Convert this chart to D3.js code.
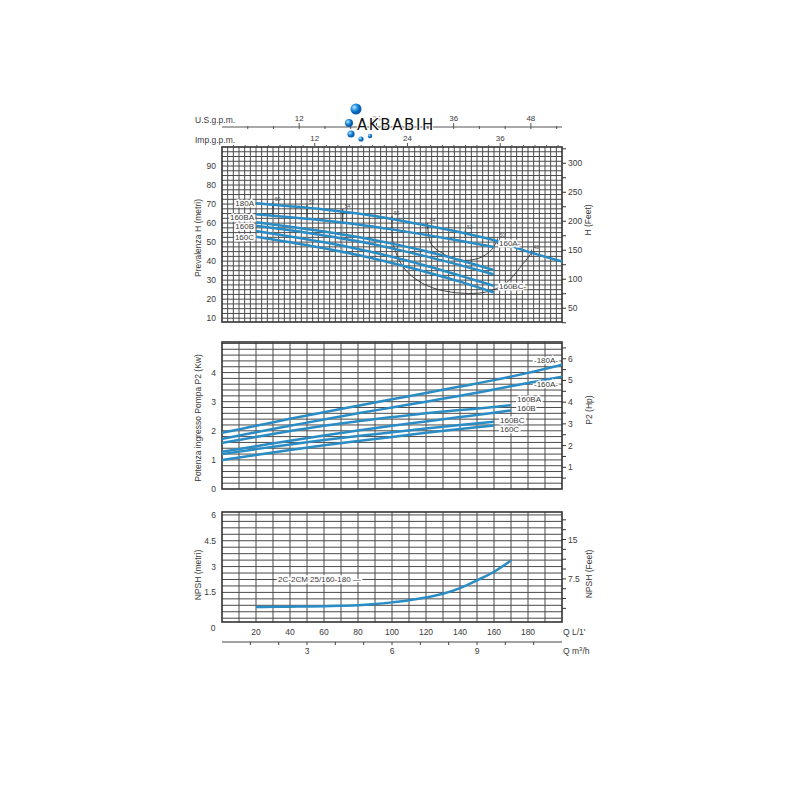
<!DOCTYPE html>
<html><head><meta charset="utf-8">
<script src="https://cdn.jsdelivr.net/npm/d3@7"></script>
<style>body{margin:0;background:#fff}svg{display:block}</style>
</head><body>
<script>
// ---------- DATA ----------
const modelNames = ["180A","160A","160BA","160B","160BC","160C"];
// Head curves H (m) vs Q (L/min)
const qHead = [20,40,60,80,100,120,140,160,180,200];
const head180A = [70.4,68.9,67.2,65.0,62.2,58.8,55.2,51.0,45.0,39.8];
const head160A = [64.6,63.1,61.4,59.3,56.7,53.8,50.7,47.4];
const head160BA = [60.4,58.1,55.6,52.7,49.2,45.2,40.5,35.3];
const head160B = [58.6,56.2,53.5,50.4,46.7,42.5,37.9,33.0];
const head160BC = [55.8,53.0,49.9,46.4,42.3,37.6,32.4,27.0];
const head160C = [52.8,49.9,46.8,43.2,39.0,34.3,29.2,23.5];
// Power P2 (kW) vs Q (L/min)
const qPower = [0,20,40,60,80,100,120,140,160,180,200];
const qPowerB = [0,20,40,60,80,100,120,140,160,170];
const power180A = [1.93,2.17,2.41,2.64,2.86,3.08,3.30,3.52,3.74,3.99,4.27];
const power160A = [1.72,1.95,2.17,2.39,2.60,2.80,3.00,3.20,3.42,3.64,3.86];
const power160BA = [1.58,1.79,1.99,2.17,2.33,2.47,2.60,2.71,2.82,2.88];
const power160B = [1.28,1.47,1.66,1.84,2.01,2.17,2.32,2.47,2.62,2.70];
const power160BC = [1.20,1.37,1.53,1.68,1.82,1.95,2.08,2.20,2.31];
const power160C = [1.00,1.17,1.34,1.50,1.65,1.79,1.93,2.06,2.18];
// NPSH (m) vs Q (L/min)
const qNpsh = [20,30,40,50,60,70,80,90,100,110,120,130,140,150,160,170];
const npshValues = [0.65,0.66,0.67,0.68,0.70,0.72,0.75,0.82,0.92,1.04,1.20,1.42,1.75,2.20,2.70,3.35];
const npshLabel = "2C-2CM 25/160-180";
// iso-efficiency curves (Q, H)
const isoInner = [[121,59],[123,49],[131,43.5],[140,40.5],[151,41.5],[158,45.5],[162,51]];
const isoOuter = [[100,63.2],[101,48],[108,35.3],[120,27.4],[135,23.7],[155,23.7],[167,28.4],[175,36.3],[182,44.2]];
const isoMarksQ = [30,50,71];
const effPointQ = [30,50,71,100,121,143,162,182];
const effPointLabels = [50,52,54,55,54,52,50,48];
// Tick labels
const qTicks = [20,40,60,80,100,120,140,160,180];
const usGpmLabels = [12,24,36,48];
const impGpmLabels = [12,24,36];
const m3hLabels = [3,6,9];
const headTicks = [10,20,30,40,50,60,70,80,90];
const headFtTicks = [50,100,150,200,250,300];
const powerTicks = [0,1,2,3,4];
const hpTicks = [1,2,3,4,5,6];
const npshTicks = [1.5,3,4.5,6];
const npshFtTicks = [7.5,15];

// ---------- LAYOUT ----------
const W=800,H=800;
const svg=d3.select("body").append("svg").attr("width",W).attr("height",H).style("font-family","'Liberation Sans',Arial,sans-serif");
const X0=222,X1=562;
const x=d3.scaleLinear([0,200],[X0,X1]);
const yH=d3.scaleLinear([8,100],[322,147]);
const yHft=d3.scaleLinear([8*3.2808,100*3.2808],[322,147]);
const yP=d3.scaleLinear([0,5.05],[489,342]);
const yHp=d3.scaleLinear([0,5.05/0.7457],[489,342]);
const yN=d3.scaleLinear([-0.22,6.17],[622,512]);
const yNft=d3.scaleLinear([-0.22*3.2808,6.17*3.2808],[622,512]);
const blue="#2a8cc4", gridC="#4a4a4a", txt="#3a3a3a";

function grid(vx,vy,ys){
  const g=svg.append("g");
  const [ya,yb]=ys.range();
  g.selectAll(null).data(vx).join("line").attr("x1",d=>x(d)).attr("x2",d=>x(d)).attr("y1",ya).attr("y2",yb)
   .attr("stroke",gridC).attr("stroke-width",1);
  g.selectAll(null).data(vy).join("line").attr("x1",X0).attr("x2",X1).attr("y1",d=>ys(d)).attr("y2",d=>ys(d))
   .attr("stroke",gridC).attr("stroke-width",1);
  g.append("rect").attr("x",X0).attr("y",yb).attr("width",X1-X0).attr("height",ya-yb)
   .attr("fill","none").attr("stroke","#333").attr("stroke-width",1.6);
}
grid(d3.range(10/3,200,10/3), d3.range(10,100,2.5), yH);
grid(d3.range(10,200,10), d3.range(0.2,5.01,0.2), yP);
grid(d3.range(10,200,10), d3.range(0,6.01,0.375), yN);

function leftLabels(vals,ys,fmt){
  svg.append("g").selectAll(null).data(vals).join("text").attr("x",216).attr("y",d=>ys(d)+3)
   .attr("text-anchor","end").attr("font-size",8.5).attr("fill",txt).text(fmt||(d=>d));
}
leftLabels(headTicks,yH);
leftLabels(powerTicks,yP);
leftLabels(npshTicks,yN);
svg.append("text").attr("x",213).attr("y",631).attr("text-anchor","middle").attr("font-size",8.5).attr("fill",txt).text("0");

function rightAxis(ticks,labels,ys){
  const g=svg.append("g");
  g.selectAll(null).data(ticks).join("line").attr("x1",X1).attr("x2",X1+4).attr("y1",d=>ys(d)).attr("y2",d=>ys(d)).attr("stroke","#333");
  g.selectAll(null).data(labels).join("text").attr("x",X1+6).attr("y",d=>ys(d)+3).attr("font-size",8.5).attr("fill",txt).text(d=>d);
}
rightAxis(d3.range(25,326,25),headFtTicks,yHft);
rightAxis(d3.range(0.5,6.6,0.5),hpTicks,yHp);
rightAxis(d3.range(1.875,20,1.875),npshFtTicks,yNft);

function vTitle(t,cx,cy){
  svg.append("text").attr("transform",`translate(${cx},${cy}) rotate(-90)`).attr("text-anchor","middle")
   .attr("font-size",8.5).attr("fill",txt).text(t);
}
vTitle("Prevalenza H (metri)",201,238);
vTitle("H (Feet)",591,220);
vTitle("Potenza ingresso Pompa P2 (Kw)",201,418);
vTitle("P2 (Hp)",592,410);
vTitle("NPSH (metri)",201,575);
vTitle("NPSH (Feet)",592,574);

// bottom Q axis labels
svg.append("g").selectAll(null).data(qTicks).join("text").attr("x",d=>x(d)).attr("y",635)
 .attr("text-anchor","middle").attr("font-size",8.5).attr("fill",txt).text(d=>d);
svg.append("text").attr("x",563).attr("y",635).attr("font-size",8.5).attr("fill",txt).text("Q  L/1'");
// m3/h axis
const m3=svg.append("g");
m3.append("line").attr("x1",X0).attr("x2",X1).attr("y1",642).attr("y2",642).attr("stroke","#444").attr("stroke-width",1.1);
m3.selectAll(null).data(d3.range(1,12,1)).join("line").attr("x1",d=>x(d*1000/60)).attr("x2",d=>x(d*1000/60))
 .attr("y1",642).attr("y2",645).attr("stroke","#444");
m3.selectAll(null).data(m3hLabels).join("text").attr("x",d=>x(d*1000/60)).attr("y",654).attr("text-anchor","middle")
 .attr("font-size",8.5).attr("fill",txt).text(d=>d);
svg.append("text").attr("x",563).attr("y",654).attr("font-size",8.5).attr("fill",txt).html("Q  m<tspan font-size='6' dy='-3'>3</tspan><tspan dy='3'>/h</tspan>");

// top gpm axes
const US=3.78541, IMP=4.54609;
const ta=svg.append("g");
ta.append("line").attr("x1",X0).attr("x2",X1).attr("y1",127).attr("y2",127).attr("stroke","#555").attr("stroke-width",1.2);
ta.selectAll(null).data(d3.range(4,53,4).filter(d=>d*US<=200)).join("line").attr("x1",d=>x(d*US)).attr("x2",d=>x(d*US))
 .attr("y1",d=>usGpmLabels.includes(d)?123:126).attr("y2",129).attr("stroke","#555");
ta.selectAll(null).data(usGpmLabels).join("text").attr("x",d=>x(d*US)).attr("y",121).attr("text-anchor","middle")
 .attr("font-size",8).attr("fill",d=>d===24?"#999":txt).text(d=>d);
ta.selectAll(null).data(d3.range(1.5,44,1.5).filter(d=>d*IMP<=200)).join("line").attr("x1",d=>x(d*IMP)).attr("x2",d=>x(d*IMP))
 .attr("y1",d=>impGpmLabels.includes(d)?143:145).attr("y2",147).attr("stroke","#555");
ta.selectAll(null).data(impGpmLabels).join("text").attr("x",d=>x(d*IMP)).attr("y",141).attr("text-anchor","middle")
 .attr("font-size",8).attr("fill",txt).text(d=>d);
svg.append("text").attr("x",195).attr("y",123).attr("font-size",8.5).attr("fill",txt).text("U.S.g.p.m.");
svg.append("text").attr("x",195).attr("y",143).attr("font-size",8.5).attr("fill",txt).text("Imp.g.p.m.");

// iso-efficiency curves
const isoLine=d3.line().x(d=>x(d[0])).y(d=>yH(d[1])).curve(d3.curveCatmullRom);
[isoInner,isoOuter].forEach(c=>svg.append("path").attr("d",isoLine(c)).attr("fill","none").attr("stroke","#333").attr("stroke-width",0.9));
const h180=d3.scaleLinear(qHead,head180A), h160c=d3.scaleLinear(qHead.slice(0,8),head160C), h160a=d3.scaleLinear(qHead.slice(0,8),head160A);
isoMarksQ.forEach(q=>{
  svg.append("line").attr("x1",x(q)).attr("x2",x(q)).attr("y1",yH(h180(q)+0.5)).attr("y2",yH(h160a(q)-0.5)).attr("stroke","#333").attr("stroke-width",1.1);
  svg.append("line").attr("x1",x(q)).attr("x2",x(q)).attr("y1",yH(h160a(q))).attr("y2",yH(h160c(q)-1)).attr("stroke","#999").attr("stroke-width",0.8);
});
svg.append("g").selectAll(null).data(effPointQ).join("path")
 .attr("d",q=>{const cx=x(q),cy=yH(h180(q));return `M${cx-3},${cy}H${cx+3}M${cx},${cy-3}V${cy+3}`;})
 .attr("stroke","#333").attr("stroke-width",0.9);
svg.append("g").selectAll(null).data(effPointQ).join("text").attr("x",q=>x(q)+2).attr("y",q=>yH(h180(q))-4)
 .attr("font-size",5).attr("fill","#555").text((q,i)=>effPointLabels[i]);

// head curves
const lineH=d3.line().x(d=>x(d[0])).y(d=>yH(d[1])).curve(d3.curveMonotoneX);
const headSeries=[head180A,head160A,head160BA,head160B,head160BC,head160C];
headSeries.forEach(s=>svg.append("path").attr("d",lineH(s.map((v,i)=>[qHead[i],v])))
  .attr("fill","none").attr("stroke",blue).attr("stroke-width",2.5));

// power curves
const lineP=d3.line().x(d=>x(d[0])).y(d=>yP(d[1])).curve(d3.curveMonotoneX);
const powerSeries=[[power180A,qPower],[power160A,qPower],[power160BA,qPowerB],[power160B,qPowerB],[power160BC,qPower],[power160C,qPower]];
powerSeries.forEach(([s,q])=>svg.append("path").attr("d",lineP(s.map((v,i)=>[q[i],v])))
  .attr("fill","none").attr("stroke",blue).attr("stroke-width",2.5));

// NPSH curve
const lineN=d3.line().x(d=>x(d[0])).y(d=>yN(d[1])).curve(d3.curveMonotoneX);
svg.append("path").attr("d",lineN(npshValues.map((v,i)=>[qNpsh[i],v]))).attr("fill","none").attr("stroke",blue).attr("stroke-width",2.5);

// series labels
function label(t,lx,ly,anchor){
  svg.append("text").attr("x",lx).attr("y",ly).attr("text-anchor",anchor||"start").attr("font-size",8).attr("fill",txt)
   .attr("stroke","#fff").attr("stroke-width",3).attr("paint-order","stroke").text(t);
}
label(modelNames[0],x(20)-2,yH(head180A[0])+3,"end");
label(modelNames[2],x(20)-2,yH(head160BA[0])-2,"end");
label(modelNames[3],x(20)-2,yH(head160B[0])+3,"end");
label(modelNames[5],x(20)-2,yH(head160C[0])+3,"end");
label(modelNames[1]+"-",x(160)+5,yH(head160A[7])-1);
label(modelNames[4]+"-",x(160)+5,yH(head160BC[7])+3);
label("-"+modelNames[0]+"-",x(200)-28,yP(power180A[10])-2);
label("-"+modelNames[1]+"-",x(200)-28,yP(power160A[10])+10);
label(modelNames[2],x(170)+6,yP(power160BA[9])-3);
label(modelNames[3],x(170)+6,yP(power160B[9])+1);
label(modelNames[4],x(160)+6,yP(power160BC[8])+1);
label(modelNames[5],x(160)+6,yP(power160C[8])+6);
label(npshLabel+" \u2014",x(33),yN(2.1));

// logo
const lg=svg.append("g");
const grad=svg.append("defs").append("radialGradient").attr("id","bub").attr("cx","35%").attr("cy","35%");
grad.append("stop").attr("offset","0%").attr("stop-color","#bfe6ff");
grad.append("stop").attr("offset","60%").attr("stop-color","#1e8fe0");
grad.append("stop").attr("offset","100%").attr("stop-color","#0b5fb0");
[[356,109,5.5],[349,123,4],[351,134,3.6],[361,139,2.6],[370,136,2.2]].forEach(([cx,cy,r])=>
  lg.append("circle").attr("cx",cx).attr("cy",cy).attr("r",r).attr("fill","url(#bub)"));
lg.append("text").attr("x",357).attr("y",130).attr("font-family","'DejaVu Sans',sans-serif").attr("font-size",15)
 .attr("letter-spacing",1.6).attr("fill","#111").attr("stroke","#fff").attr("stroke-width",2).attr("paint-order","stroke").text("AKBABIH");
</script>
</body></html>
